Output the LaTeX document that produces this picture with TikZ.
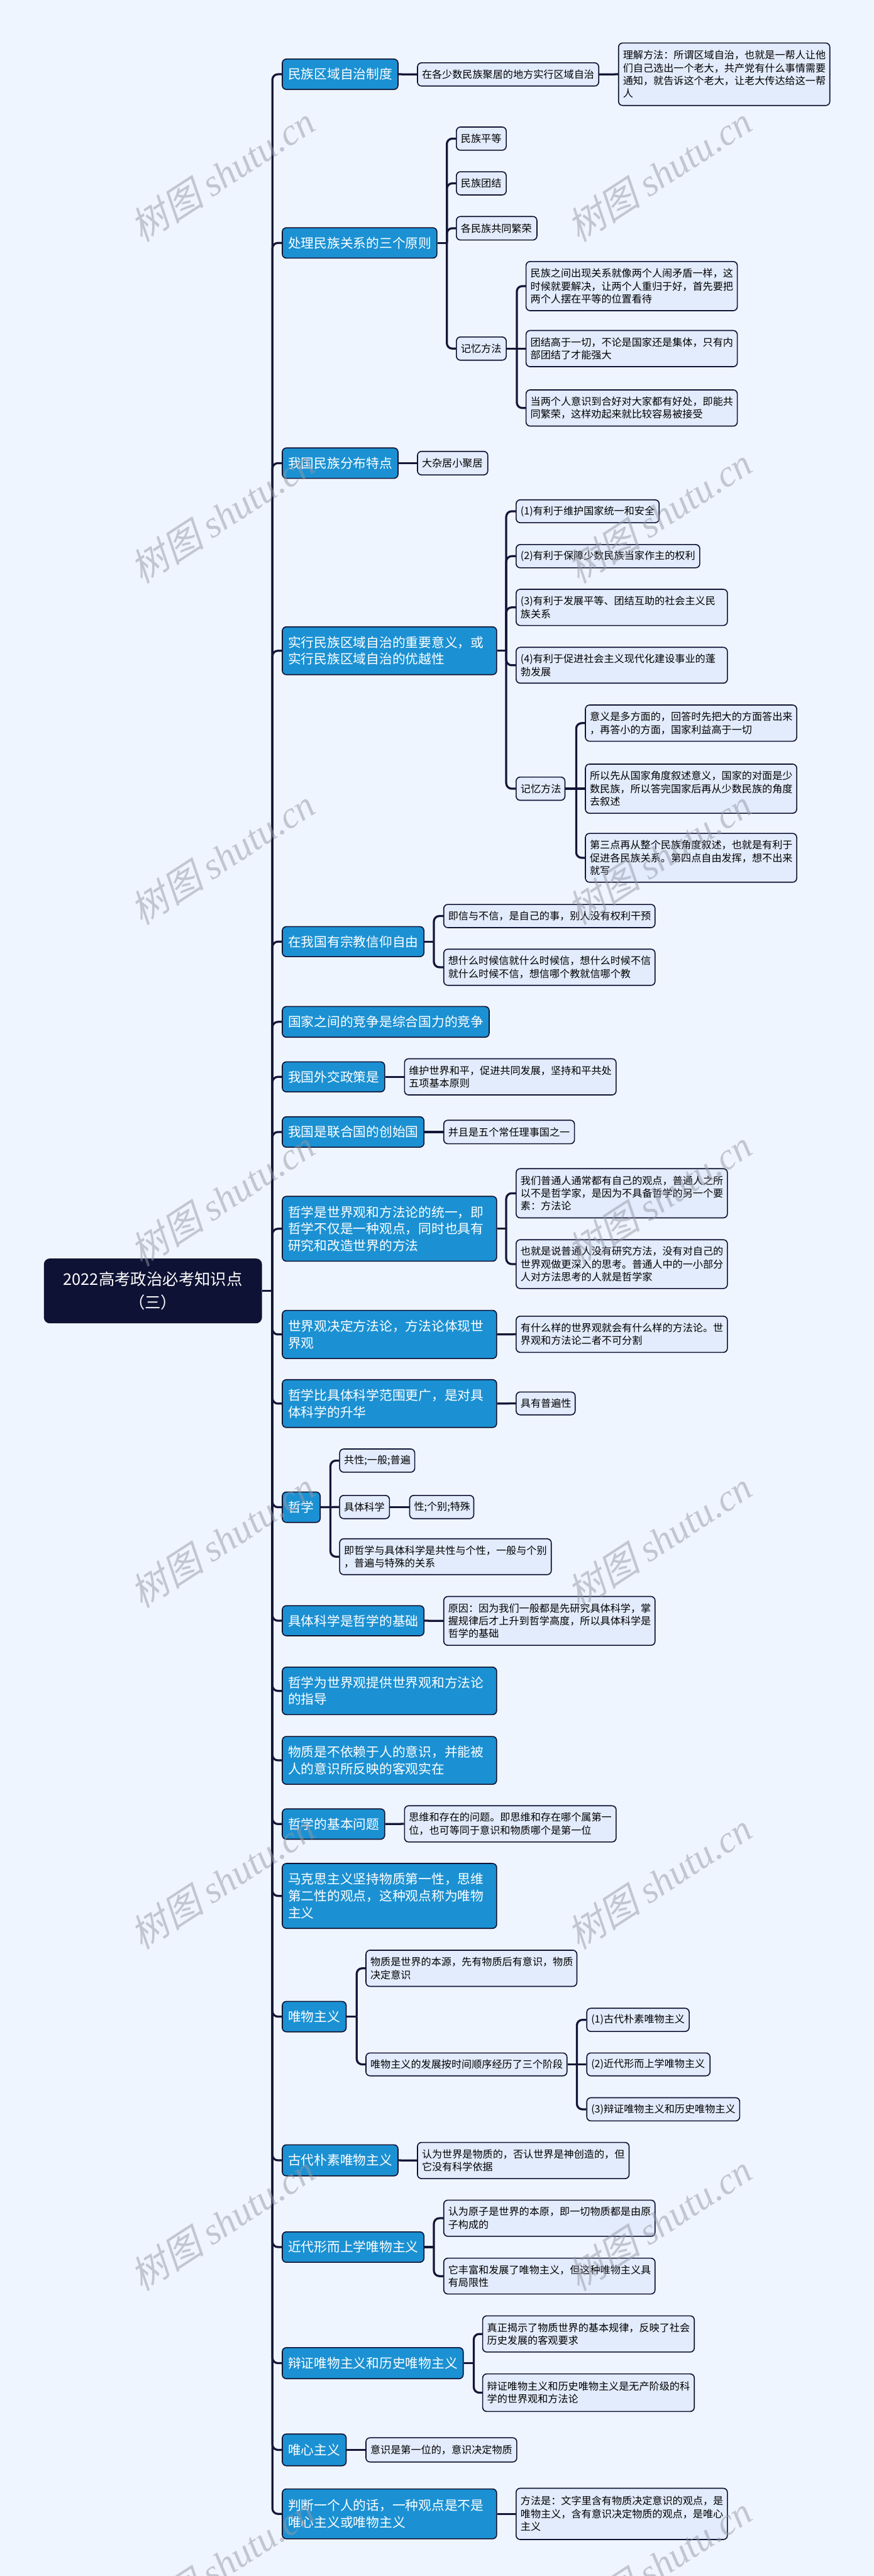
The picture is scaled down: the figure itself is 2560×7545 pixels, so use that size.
\documentclass[tikz,border=0pt]{standalone}
\usepackage{fontspec}
\newfontfamily\cjk{Noto Sans CJK SC}
\newfontfamily\wmcjk[FakeSlant=0.25]{Noto Sans CJK SC}
\newfontfamily\wmlat{Liberation Serif}
\usetikzlibrary{calc}
\definecolor{bgc}{RGB}{239,245,255}
\definecolor{lonec}{RGB}{27,145,211}
\definecolor{ltwoc}{RGB}{227,236,252}
\definecolor{bordc}{RGB}{16,18,50}
\definecolor{conncol}{RGB}{20,22,55}
\definecolor{rootc}{RGB}{14,18,52}
\definecolor{wmc}{RGB}{150,152,164}
\tikzset{
  boxbase/.style={draw=bordc, line width=1.5pt, rounded corners=6pt, inner ysep=0pt, align=left},
  Lone/.style={boxbase, fill=lonec, text=white, inner xsep=8.5pt, font=\cjk\fontsize{19.1}{24.5}\selectfont},
  Ltwo/.style={boxbase, fill=ltwoc, text=black, inner xsep=6.5pt, font=\cjk\fontsize{14.85}{18.85}\selectfont},
  rootst/.style={draw=bordc, line width=1.5pt, rounded corners=8pt, fill=rootc, text=white, align=center, font=\cjk\fontsize{23.4}{34}\selectfont},
  link/.style={draw=conncol, line width=3pt, rounded corners=8pt},
  wmark/.style={text=wmc, opacity=0.5, inner sep=0pt},
}
\newcommand\placebox[8]{%
  \pgfmathsetmacro\myBW{0.5*(#6-#4)}%
  \pgfmathsetmacro\myBH{0.5*(#7-#5)}%
  \pgfmathsetmacro\myTW{\myBW-2*#3}%
  \node[#2, minimum width=\myBW pt, minimum height=\myBH pt, text width=\myTW pt] (#1) at ({(#4+#6)/2},{(#5+#7)/2}) {#8};}
\newcommand\Bone[6]{\placebox{#1}{Lone}{8.5}{#2}{#3}{#4}{#5}{#6}}
\newcommand\Btwo[6]{\placebox{#1}{Ltwo}{6.5}{#2}{#3}{#4}{#5}{#6}}
\newcommand\branch[3]{%
  \coordinate (tmpsp) at (#2,0);
  \draw[link] (#1.east) -- (#1.east -| tmpsp);
  \foreach \c in {#3} {\draw[link] (#1.east -| tmpsp) |- (\c.west);}
}
\newcommand\straight[2]{\draw[link] (#1.east) -- (#2.west);}
\begin{document}
\begin{tikzpicture}[x=0.5pt,y=-0.5pt]
\fill[bgc] (0,0) rectangle (2560,7545);
\useasboundingbox (0,0) rectangle (2560,7545);

% root
\node[rootst, minimum width=318pt, minimum height=93.5pt] (root) at (448,3781) {2022高考政治必考知识点\\（三）};

% level 1
\Bone{A1}{827}{173}{1166}{262}{民族区域自治制度}
\Bone{A2}{827}{667}{1280}{756}{处理民族关系的三个原则}
\Bone{A3}{827}{1312}{1166}{1401}{我国民族分布特点}
\Bone{A4}{827}{1836}{1455}{1976}{实行民族区域自治的重要意义，或\\实行民族区域自治的优越性}
\Bone{A5}{827}{2714}{1242}{2802}{在我国有宗教信仰自由}
\Bone{A6}{827}{2948}{1433}{3038}{国家之间的竞争是综合国力的竞争}
\Bone{A7}{827}{3110}{1127}{3198}{我国外交政策是}
\Bone{A8}{827}{3271}{1242}{3360}{我国是联合国的创始国}
\Bone{A9}{827}{3504}{1455}{3694}{哲学是世界观和方法论的统一，即\\哲学不仅是一种观点，同时也具有\\研究和改造世界的方法}
\Bone{A10}{827}{3838}{1455}{3979}{世界观决定方法论，方法论体现世\\界观}
\Bone{A11}{827}{4041}{1455}{4181}{哲学比具体科学范围更广，是对具\\体科学的升华}
\Bone{A12}{827}{4370}{938}{4459}{哲学}
\Bone{A13}{827}{4703}{1242}{4791}{具体科学是哲学的基础}
\Bone{A14}{827}{4883}{1455}{5022}{哲学为世界观提供世界观和方法论\\的指导}
\Bone{A15}{827}{5086}{1455}{5226}{物质是不依赖于人的意识，并能被\\人的意识所反映的客观实在}
\Bone{A16}{827}{5298}{1127}{5387}{哲学的基本问题}
\Bone{A17}{827}{5458}{1455}{5648}{马克思主义坚持物质第一性，思维\\第二性的观点，这种观点称为唯物\\主义}
\Bone{A18}{827}{5862}{1014}{5951}{唯物主义}
\Bone{A19}{827}{6282}{1166}{6373}{古代朴素唯物主义}
\Bone{A20}{827}{6537}{1242}{6626}{近代形而上学唯物主义}
\Bone{A21}{827}{6876}{1357}{6967}{辩证唯物主义和历史唯物主义}
\Bone{A22}{827}{7129}{1014}{7222}{唯心主义}
\Bone{A23}{827}{7290}{1455}{7436}{判断一个人的话，一种观点是不是\\唯心主义或唯物主义}

% level 2+
\Btwo{A1a}{1223}{184}{1754}{252}{在各少数民族聚居的地方实行区域自治}
\Btwo{A1b}{1812}{126}{2431}{309}{理解方法：所谓区域自治，也就是一帮人让他\\们自己选出一个老大，共产党有什么事情需要\\通知，就告诉这个老大，让老大传达给这一帮\\人}

\Btwo{A2a}{1337}{372}{1483}{440}{民族平等}
\Btwo{A2b}{1337}{503}{1483}{571}{民族团结}
\Btwo{A2c}{1337}{634}{1573}{703}{各民族共同繁荣}
\Btwo{A2d}{1337}{987}{1483}{1055}{记忆方法}
\Btwo{A2d1}{1541}{766}{2160}{910}{民族之间出现关系就像两个人闹矛盾一样，这\\时候就要解决，让两个人重归于好，首先要把\\两个人摆在平等的位置看待}
\Btwo{A2d2}{1541}{968}{2160}{1074}{团结高于一切，不论是国家还是集体，只有内\\部团结了才能强大}
\Btwo{A2d3}{1541}{1142}{2160}{1248}{当两个人意识到合好对大家都有好处，即能共\\同繁荣，这样劝起来就比较容易被接受}

\Btwo{A3a}{1223}{1322}{1429}{1391}{大杂居小聚居}

\Btwo{A4a}{1512}{1464}{1931}{1531}{(1)有利于维护国家统一和安全}
\Btwo{A4b}{1512}{1595}{2050}{1663}{(2)有利于保障少数民族当家作主的权利}
\Btwo{A4c}{1512}{1726}{2131}{1832}{(3)有利于发展平等、团结互助的社会主义民\\族关系}
\Btwo{A4d}{1512}{1896}{2131}{2001}{(4)有利于促进社会主义现代化建设事业的蓬\\勃发展}
\Btwo{A4e}{1512}{2276}{1655}{2344}{记忆方法}
\Btwo{A4e1}{1715}{2065}{2334}{2171}{意义是多方面的，回答时先把大的方面答出来\\，再答小的方面，国家利益高于一切}
\Btwo{A4e2}{1715}{2238}{2334}{2382}{所以先从国家角度叙述意义，国家的对面是少\\数民族，所以答完国家后再从少数民族的角度\\去叙述}
\Btwo{A4e3}{1715}{2441}{2334}{2584}{第三点再从整个民族角度叙述，也就是有利于\\促进各民族关系。第四点自由发挥，想不出来\\就写}

\Btwo{A5a}{1300}{2649}{1919}{2717}{即信与不信，是自己的事，别人没有权利干预}
\Btwo{A5b}{1300}{2780}{1919}{2886}{想什么时候信就什么时候信，想什么时候不信\\就什么时候不信，想信哪个教就信哪个教}

\Btwo{A7a}{1185}{3101}{1805}{3207}{维护世界和平，促进共同发展，坚持和平共处\\五项基本原则}
\Btwo{A8a}{1300}{3281}{1683}{3350}{并且是五个常任理事国之一}

\Btwo{A9a}{1512}{3423}{2131}{3567}{我们普通人通常都有自己的观点，普通人之所\\以不是哲学家，是因为不具备哲学的另一个要\\素：方法论}
\Btwo{A9b}{1512}{3631}{2131}{3774}{也就是说普通人没有研究方法，没有对自己的\\世界观做更深入的思考。普通人中的一小部分\\人对方法思考的人就是哲学家}

\Btwo{A10a}{1512}{3855}{2131}{3961}{有什么样的世界观就会有什么样的方法论。世\\界观和方法论二者不可分割}
\Btwo{A11a}{1512}{4077}{1685}{4144}{具有普遍性}

\Btwo{A12a}{995}{4244}{1215}{4312}{共性;一般;普遍}
\Btwo{A12b}{995}{4380}{1141}{4448}{具体科学}
\Btwo{A12b1}{1200}{4380}{1388}{4448}{性;个别;特殊}
\Btwo{A12c}{995}{4507}{1615}{4612}{即哲学与具体科学是共性与个性，一般与个别\\，普遍与特殊的关系}

\Btwo{A13a}{1300}{4676}{1919}{4819}{原因：因为我们一般都是先研究具体科学，掌\\握规律后才上升到哲学高度，所以具体科学是\\哲学的基础}

\Btwo{A16a}{1185}{5289}{1805}{5395}{思维和存在的问题。即思维和存在哪个属第一\\位，也可等同于意识和物质哪个是第一位}

\Btwo{A18a}{1072}{5712}{1690}{5818}{物质是世界的本源，先有物质后有意识，物质\\决定意识}
\Btwo{A18b}{1072}{6013}{1661}{6080}{唯物主义的发展按时间顺序经历了三个阶段}
\Btwo{A18b1}{1719}{5882}{2019}{5950}{(1)古代朴素唯物主义}
\Btwo{A18b2}{1719}{6013}{2080}{6080}{(2)近代形而上学唯物主义}
\Btwo{A18b3}{1719}{6144}{2167}{6212}{(3)辩证唯物主义和历史唯物主义}

\Btwo{A19a}{1223}{6275}{1843}{6381}{认为世界是物质的，否认世界是神创造的，但\\它没有科学依据}

\Btwo{A20a}{1300}{6444}{1919}{6550}{认为原子是世界的本原，即一切物质都是由原\\子构成的}
\Btwo{A20b}{1300}{6614}{1919}{6719}{它丰富和发展了唯物主义，但这种唯物主义具\\有局限性}

\Btwo{A21a}{1414}{6783}{2034}{6889}{真正揭示了物质世界的基本规律，反映了社会\\历史发展的客观要求}
\Btwo{A21b}{1414}{6953}{2034}{7063}{辩证唯物主义和历史唯物主义是无产阶级的科\\学的世界观和方法论}

\Btwo{A22a}{1072}{7140}{1514}{7211}{意识是第一位的，意识决定物质}
\Btwo{A23a}{1512}{7288}{2131}{7438}{方法是：文字里含有物质决定意识的观点，是\\唯物主义，含有意识决定物质的观点，是唯心\\主义}

% connectors
\branch{root}{798}{A1,A2,A3,A4,A5,A6,A7,A8,A9,A10,A11,A12,A13,A14,A15,A16,A17,A18,A19,A20,A21,A22,A23}
\straight{A1}{A1a}
\straight{A1a}{A1b}
\branch{A2}{1309}{A2a,A2b,A2c,A2d}
\branch{A2d}{1514}{A2d1,A2d3}
\straight{A2d}{A2d2}
\straight{A3}{A3a}
\branch{A4}{1483}{A4a,A4b,A4c,A4d,A4e}
\branch{A4e}{1688}{A4e1,A4e3}
\straight{A4e}{A4e2}
\branch{A5}{1271}{A5a,A5b}
\straight{A7}{A7a}
\straight{A8}{A8a}
\branch{A9}{1483}{A9a,A9b}
\straight{A10}{A10a}
\straight{A11}{A11a}
\branch{A12}{968}{A12a,A12c}
\straight{A12}{A12b}
\straight{A12b}{A12b1}
\straight{A13}{A13a}
\straight{A16}{A16a}
\branch{A18}{1045}{A18a,A18b}
\branch{A18b}{1690}{A18b1,A18b3}
\straight{A18b}{A18b2}
\straight{A19}{A19a}
\branch{A20}{1271}{A20a,A20b}
\branch{A21}{1388}{A21a,A21b}
\straight{A22}{A22a}
\straight{A23}{A23a}

% watermarks
\foreach \k in {0,...,7} {
  \pgfmathsetmacro\wy{510+1000*\k}
  \node[wmark, rotate=33] at (1931,\wy) {\fontsize{55}{55}\selectfont\wmcjk 树图 \wmlat\itshape shutu.cn};
  \node[wmark, rotate=33] at (651,\wy) {\fontsize{55}{55}\selectfont\wmcjk 树图 \wmlat\itshape shutu.cn};
}
\end{tikzpicture}
\end{document}
